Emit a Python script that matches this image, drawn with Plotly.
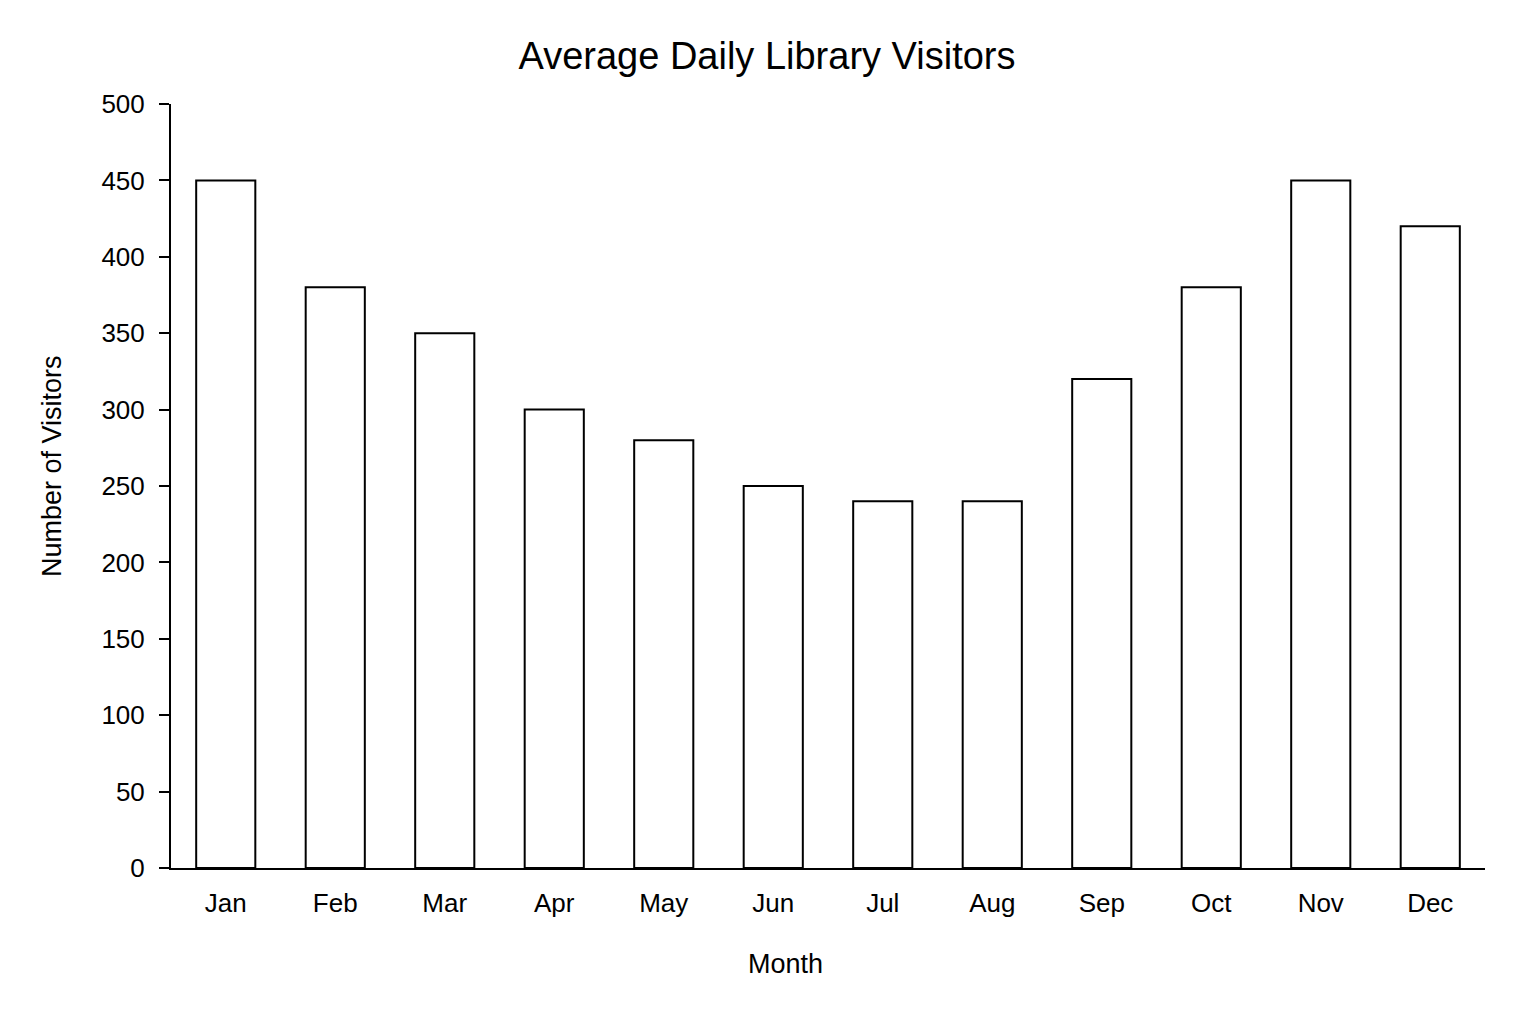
import plotly.graph_objects as go

months = ["Jan", "Feb", "Mar", "Apr", "May", "Jun",
          "Jul", "Aug", "Sep", "Oct", "Nov", "Dec"]
visitors = [450, 380, 350, 300, 280, 250, 240, 240, 320, 380, 450, 420]
y_ticks = list(range(0, 501, 50))

font = "Liberation Sans, Arial, sans-serif"

fig = go.Figure()
fig.add_trace(go.Bar(x=months, y=visitors,
                     marker=dict(color="white", line=dict(color="black", width=2))))

# page has an 8px body margin, so margins are shifted to land on the reference
L, R, T, B = 163, 59, 96, 164
pw = 1536 - L - R
ph = 1024 - T - B

fig.update_layout(
    width=1536, height=1024,
    paper_bgcolor="white", plot_bgcolor="white",
    margin=dict(l=L, r=R, t=T, b=B),
    bargap=0.46,
    showlegend=False,
    font=dict(family=font, color="black"),
    title=dict(text="Average Daily Library Visitors", x=(767 - 8) / 1536, xanchor="center",
               y=1 - 48 / 1024, yanchor="middle",
               font=dict(size=38, family=font, color="black")),
)

# axis titles sit off-centre in the reference, so place them as annotations
fig.add_annotation(text="Month", xref="paper", yref="paper",
                   x=(777 - L) / pw, y=-(956 - (T + ph)) / ph,
                   xanchor="center", yanchor="middle", showarrow=False,
                   font=dict(size=27, family=font, color="black"))
fig.add_annotation(text="Number of Visitors", xref="paper", yref="paper",
                   x=(44 - L) / pw, y=((T + ph) - 458) / ph, textangle=-90,
                   xanchor="center", yanchor="middle", showarrow=False,
                   font=dict(size=27, family=font, color="black"))

fig.update_xaxes(
    tickfont=dict(size=26),
    showline=True, linecolor="black", linewidth=2,
    ticks="", showgrid=False, ticklabelstandoff=11,
)
fig.update_yaxes(
    range=[0, 500], tickvals=y_ticks, tickfont=dict(size=26),
    showline=True, linecolor="black", linewidth=2,
    ticks="outside", ticklen=10, tickwidth=2, tickcolor="black",
    showgrid=False, zeroline=False, ticklabelstandoff=9,
)

fig.write_html("out.html")
